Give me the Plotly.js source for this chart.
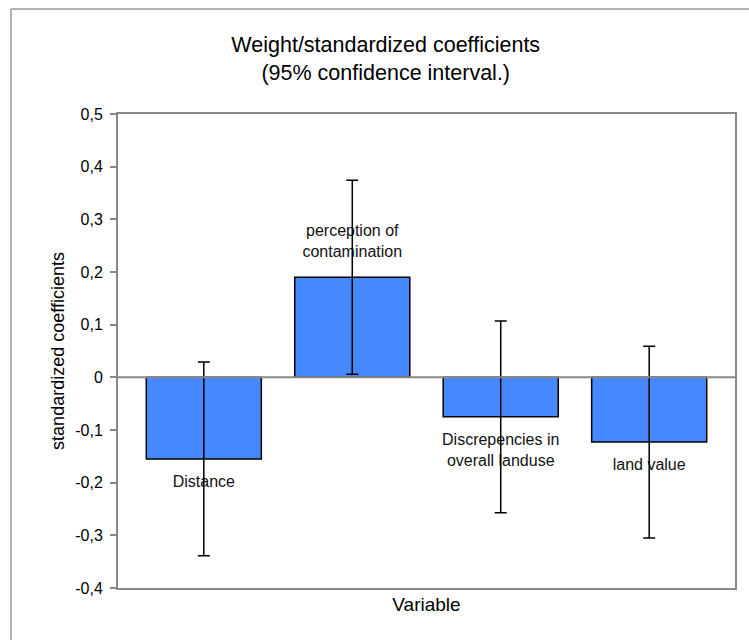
<!DOCTYPE html>
<html>
<head>
<meta charset="utf-8">
<script src="https://cdn.plot.ly/plotly-3.0.1.min.js"></script>
<style>
  html, body { margin: 0; padding: 0; background: #fff; overflow: hidden; }
  #chart { width: 749px; height: 640px; }
</style>
</head>
<body>
<div id="chart"></div>
<script>
// ---- data ----
const categories = ['Distance', 'perception of contamination', 'Discrepencies in overall landuse', 'land value'];
const barLabels = ['Distance', 'perception of<br>contamination', 'Discrepencies in<br>overall landuse', 'land value'];
const coefficients = [-0.155, 0.19, -0.075, -0.123];
const ciHalfWidth = [0.184, 0.184, 0.182, 0.182];
const yTickVals = [0.5, 0.4, 0.3, 0.2, 0.1, 0, -0.1, -0.2, -0.3, -0.4];
const yTickText = ['0,5', '0,4', '0,3', '0,2', '0,1', '0', '-0,1', '-0,2', '-0,3', '-0,4'];

const FONT = 'Liberation Sans, Arial, sans-serif';

const bars = {
  type: 'bar',
  x: categories,
  y: coefficients,
  width: 0.775,
  marker: { color: '#4689FF', line: { color: '#000', width: 1.5 } },
  hoverinfo: 'skip'
};

const labels = {
  type: 'scatter',
  mode: 'markers+text',
  x: categories,
  y: coefficients,
  text: barLabels,
  textposition: coefficients.map(v => v >= 0 ? 'top center' : 'bottom center'),
  textfont: { family: FONT, size: 16, color: '#111' },
  marker: { size: 24, color: 'rgba(0,0,0,0)' },
  cliponaxis: false,
  hoverinfo: 'skip'
};

const errors = {
  type: 'scatter',
  mode: 'markers',
  x: categories,
  y: coefficients,
  marker: { size: 1, color: 'rgba(0,0,0,0)' },
  error_y: { type: 'data', array: ciHalfWidth, symmetric: true, color: '#000', thickness: 1.5, width: 6 },
  hoverinfo: 'skip'
};

const layout = {
  width: 749,
  height: 640,
  margin: { l: 118, r: 14, t: 114, b: 52, pad: 0 },
  paper_bgcolor: '#fff',
  plot_bgcolor: '#fff',
  showlegend: false,
  font: { family: FONT, color: '#000' },
  title: {
    text: 'Weight/standardized coefficients<br>(95% confidence interval.)',
    font: { family: FONT, size: 21.5, color: '#000' },
    x: 0.515, xanchor: 'center',
    y: 1 - 52 / 640, yanchor: 'top'
  },
  xaxis: {
    range: [-0.578, 3.578],
    showticklabels: false,
    ticks: '',
    showgrid: false,
    zeroline: false,
    showline: true,
    mirror: true,
    linecolor: '#888',
    linewidth: 2,
    title: { text: 'Variable', font: { family: FONT, size: 19, color: '#000' }, standoff: 9 }
  },
  yaxis: {
    range: [-0.4, 0.5],
    tickvals: yTickVals,
    ticktext: yTickText,
    ticks: 'outside',
    ticklen: 6,
    tickwidth: 2,
    tickcolor: '#888',
    ticklabelstandoff: 4,
    tickfont: { family: FONT, size: 16, color: '#000' },
    showgrid: false,
    zeroline: false,
    showline: true,
    mirror: true,
    linecolor: '#888',
    linewidth: 2,
    title: { text: 'standardized coefficients', font: { family: FONT, size: 18, color: '#000' }, standoff: 6 }
  },
  shapes: [
    { type: 'line', xref: 'paper', x0: 0, x1: 1, yref: 'y', y0: 0, y1: 0,
      line: { color: '#888', width: 2 }, layer: 'above' },
    { type: 'rect', xref: 'paper', yref: 'paper', x0: 1.004, x1: 1.03, y0: -0.2, y1: 1.3,
      line: { width: 0 }, fillcolor: '#fff', layer: 'above' },
    { type: 'line', xref: 'paper', yref: 'paper', x0: -0.1734, x1: -0.1734, y0: -0.12, y1: 1.2215,
      line: { color: '#999', width: 1.5 }, layer: 'above' },
    { type: 'line', xref: 'paper', yref: 'paper', x0: -0.1734, x1: 1.0227, y0: 1.2215, y1: 1.2215,
      line: { color: '#999', width: 1.5 }, layer: 'above' }
  ]
};

Plotly.newPlot('chart', [bars, labels, errors], layout, { displayModeBar: false, staticPlot: true });
</script>
</body>
</html>
